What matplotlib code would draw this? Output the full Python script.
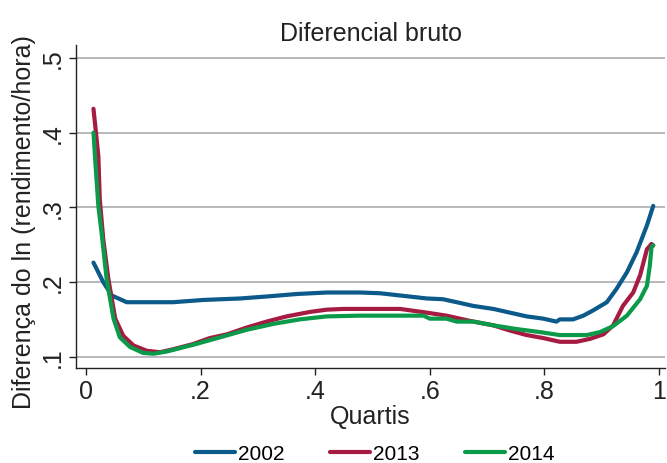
import matplotlib
matplotlib.use("Agg")
import matplotlib.pyplot as plt

plt.rcParams['font.family'] = ['Liberation Sans', 'DejaVu Sans']

title = "Diferencial bruto"
xlabel = "Quartis"
ylabel = "Diferença do ln (rendimento/hora)"
labels = ["2002", "2013", "2014"]
colors = ["#0b5a8a", "#a51b41", "#0a9a4a"]

x2002 = [0.013, 0.030, 0.045, 0.071, 0.110, 0.152, 0.204, 0.269, 0.321, 0.368, 0.420, 0.478,
         0.513, 0.548, 0.595, 0.623, 0.647, 0.676, 0.711, 0.740, 0.769, 0.798, 0.821, 0.827,
         0.850, 0.868, 0.885, 0.909, 0.926, 0.944, 0.961, 0.979, 0.990]
y2002 = [0.226, 0.200, 0.182, 0.173, 0.173, 0.173, 0.176, 0.178, 0.181, 0.184, 0.186, 0.186,
         0.185, 0.182, 0.178, 0.177, 0.173, 0.168, 0.164, 0.159, 0.154, 0.151, 0.147, 0.150,
         0.150, 0.155, 0.162, 0.173, 0.191, 0.213, 0.240, 0.276, 0.302]

x2013 = [0.013, 0.016, 0.0215, 0.024, 0.030, 0.039, 0.051, 0.065, 0.083, 0.106, 0.129, 0.152,
         0.187, 0.216, 0.246, 0.280, 0.315, 0.350, 0.391, 0.420, 0.449, 0.478, 0.548, 0.595,
         0.629, 0.670, 0.711, 0.740, 0.769, 0.798, 0.827, 0.856, 0.880, 0.903, 0.920, 0.937,
         0.955, 0.967, 0.979, 0.987, 0.990]
y2013 = [0.432, 0.410, 0.369, 0.311, 0.258, 0.204, 0.151, 0.128, 0.115, 0.108, 0.106, 0.110,
         0.117, 0.125, 0.130, 0.139, 0.147, 0.154, 0.160, 0.163, 0.164, 0.164, 0.164, 0.159,
         0.155, 0.148, 0.142, 0.135, 0.129, 0.125, 0.120, 0.120, 0.124, 0.130, 0.142, 0.168,
         0.186, 0.209, 0.244, 0.251, 0.249]

x2014 = [0.013, 0.0175, 0.0215, 0.027, 0.036, 0.048, 0.059, 0.077, 0.100, 0.118, 0.141, 0.187,
         0.234, 0.280, 0.327, 0.373, 0.420, 0.478, 0.589, 0.600, 0.629, 0.647, 0.676, 0.711,
         0.752, 0.792, 0.827, 0.874, 0.897, 0.920, 0.944, 0.967, 0.979, 0.984, 0.987, 0.990]
y2014 = [0.400, 0.347, 0.302, 0.267, 0.204, 0.151, 0.126, 0.113, 0.105, 0.104, 0.107, 0.116,
         0.126, 0.136, 0.144, 0.150, 0.154, 0.155, 0.155, 0.151, 0.151, 0.147, 0.147, 0.142,
         0.137, 0.133, 0.129, 0.129, 0.133, 0.141, 0.155, 0.177, 0.195, 0.222, 0.247, 0.249]

xticks = [0, 0.2, 0.4, 0.6, 0.8, 1.0]
xticklabels = ["0", ".2", ".4", ".6", ".8", "1"]
yticks = [0.1, 0.2, 0.3, 0.4, 0.5]
yticklabels = [".1", ".2", ".3", ".4", ".5"]

fig = plt.figure(figsize=(6.67, 4.64), dpi=100)
ax = fig.add_axes([76/667, 1-369/464, (665-76)/667, (369-46)/464])

for xs, ys, lab, c in zip([x2002, x2013, x2014], [y2002, y2013, y2014], labels, colors):
    ax.plot(xs, ys, color=c, lw=3.0, label=lab, solid_capstyle='round', solid_joinstyle='round')

ax.set_xlim(-0.0175, 1.0105)
ax.set_ylim(0.0849, 0.5 + 13/746)
ax.set_xticks(xticks)
ax.set_xticklabels(xticklabels, fontsize=18)
ax.set_yticks(yticks)
ax.set_yticklabels(yticklabels, fontsize=18, rotation=90, va='center')
ax.yaxis.grid(True, color='#ababb0', lw=1.2)
ax.set_axisbelow(True)
for s in ['top', 'right']:
    ax.spines[s].set_visible(False)
for s in ['left', 'bottom']:
    ax.spines[s].set_color('#222222')
    ax.spines[s].set_linewidth(1.0)
ax.tick_params(direction='out', length=5, width=1, color='#222222', pad=3, labelcolor='#222222')
ax.set_title(title, fontsize=18, color='#222222', pad=3)
ax.set_xlabel(xlabel, fontsize=18, color='#222222')
ax.xaxis.set_label_coords(0.5, -(417-369)/323, transform=ax.transAxes)
ax.xaxis.label.set_va('center')
ax.set_ylabel(ylabel, fontsize=18, color='#222222')
ax.yaxis.set_label_coords(-(76-24)/589, (369-222)/323, transform=ax.transAxes)
ax.yaxis.label.set_va('center')

fig.legend(loc='center', bbox_to_anchor=(375/667, 1-455/464), ncol=3, frameon=False,
           fontsize=15, handlelength=1.9, handletextpad=0.15, columnspacing=2.2)

fig.savefig("out.png", dpi=100)
